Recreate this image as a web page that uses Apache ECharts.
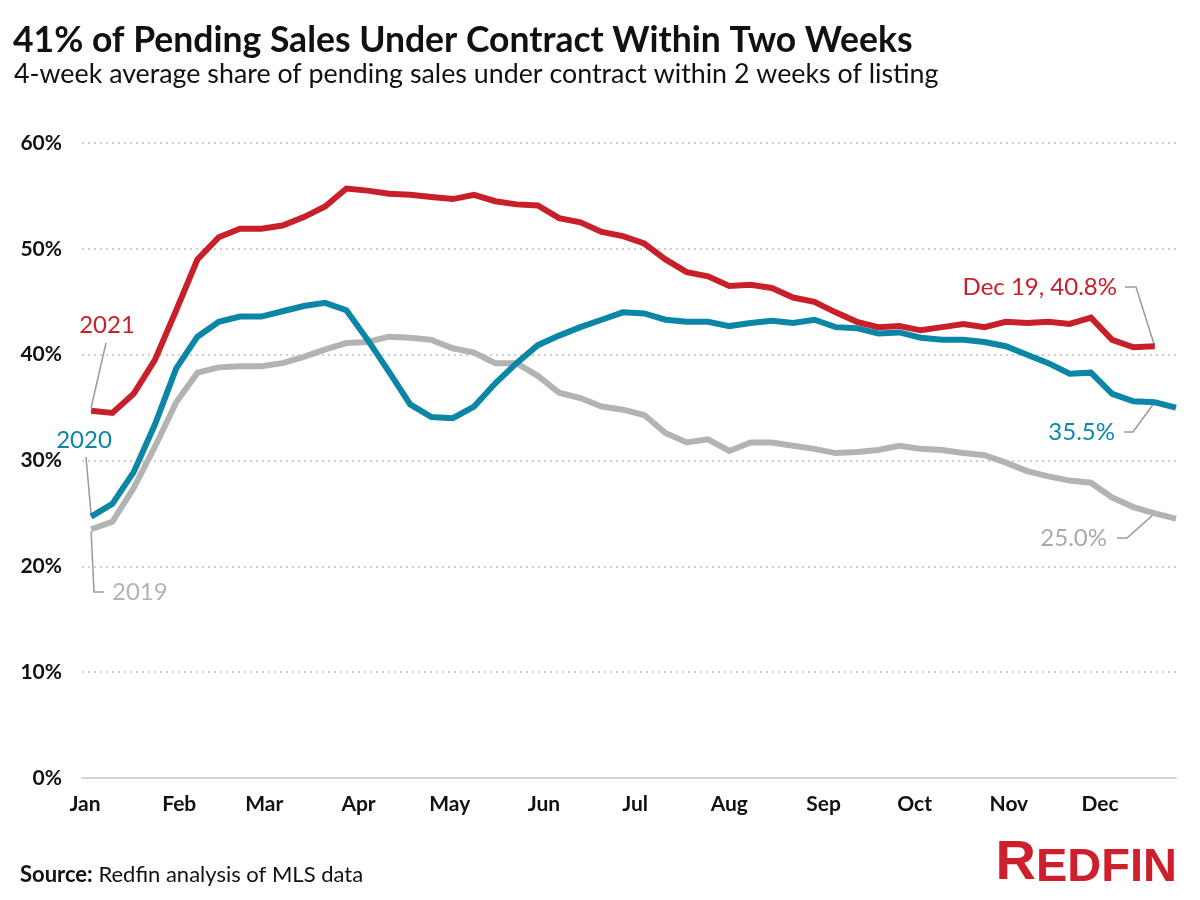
<!DOCTYPE html>
<html><head><meta charset="utf-8">
<script src="https://cdn.jsdelivr.net/npm/echarts@6/dist/echarts.min.js"></script>
<style>html,body{margin:0;padding:0;background:#fff}#c{width:1200px;height:900px}</style>
</head><body><div id="c"></div>
<script>
// Week-ending dates (Sundays), shared by all three years on a Jan-Dec axis
const weeks = ['Jan 3','Jan 10','Jan 17','Jan 24','Jan 31','Feb 7','Feb 14','Feb 21','Feb 28',
  'Mar 7','Mar 14','Mar 21','Mar 28','Apr 4','Apr 11','Apr 18','Apr 25','May 2','May 9','May 16',
  'May 23','May 30','Jun 6','Jun 13','Jun 20','Jun 27','Jul 4','Jul 11','Jul 18','Jul 25','Aug 1',
  'Aug 8','Aug 15','Aug 22','Aug 29','Sep 5','Sep 12','Sep 19','Sep 26','Oct 3','Oct 10','Oct 17',
  'Oct 24','Oct 31','Nov 7','Nov 14','Nov 21','Nov 28','Dec 5','Dec 12','Dec 19','Dec 26'];
const monthTicks = ['Jan 1','Feb 1','Mar 1','Apr 1','May 1','Jun 1','Jul 1','Aug 1','Sep 1','Oct 1','Nov 1','Dec 1'];
const monthLabels = ['Jan','Feb','Mar','Apr','May','Jun','Jul','Aug','Sep','Oct','Nov','Dec'];
const yTicks = [0,10,20,30,40,50,60];

const share2021 = [34.7,34.5,36.3,39.5,44.2,49.0,51.1,51.9,51.9,52.2,53.0,54.0,55.7,55.5,55.2,55.1,
  54.9,54.7,55.1,54.5,54.2,54.1,52.9,52.5,51.6,51.2,50.5,49.0,47.8,47.4,46.5,46.6,46.3,45.4,45.0,
  44.0,43.1,42.6,42.7,42.3,42.6,42.9,42.6,43.1,43.0,43.1,42.9,43.5,41.4,40.7,40.8];
const share2020 = [24.7,25.9,28.9,33.4,38.7,41.7,43.1,43.6,43.6,44.1,44.6,44.9,44.2,41.4,38.4,35.3,
  34.1,34.0,35.1,37.3,39.2,40.9,41.8,42.6,43.3,44.0,43.9,43.3,43.1,43.1,42.7,43.0,43.2,43.0,43.3,
  42.6,42.5,42.0,42.1,41.6,41.4,41.4,41.2,40.8,40.0,39.2,38.2,38.3,36.3,35.6,35.5,35.0];
const share2019 = [23.5,24.2,27.4,31.3,35.5,38.3,38.8,38.9,38.9,39.2,39.8,40.5,41.1,41.2,41.7,41.6,
  41.4,40.6,40.2,39.2,39.2,38.0,36.4,35.9,35.1,34.8,34.3,32.6,31.7,32.0,30.9,31.7,31.7,31.4,31.1,
  30.7,30.8,31.0,31.4,31.1,31.0,30.7,30.5,29.8,29.0,28.5,28.1,27.9,26.5,25.6,25.0,24.5];

const seriesNames = ['2019','2020','2021'];
const seriesColors = {'2021':'#C8202A','2020':'#0C86A7','2019':'#B3B3B3'};
const endLabels = {'2021':'Dec 19, 40.8%','2020':'35.5%','2019':'25.0%'};

const MON = {Jan:0,Feb:1,Mar:2,Apr:3,May:4,Jun:5,Jul:6,Aug:7,Sep:8,Oct:9,Nov:10,Dec:11};
function doy(s){const [m,d]=s.split(' ');return (Date.UTC(2021,MON[m],+d)-Date.UTC(2021,0,1))/86400000;}
const tickDays = monthTicks.map(doy);
const dayToLabel = {}; tickDays.forEach((d,i)=>dayToLabel[d]=monthLabels[i]);
function pts(vals){return vals.map((v,i)=>[doy(weeks[i]),v]);}
const dataByYear = {'2021':share2021,'2020':share2020,'2019':share2019};

const FONT = 'Lato, "Open Sans", sans-serif';
const LOGO = '"Liberation Sans", Arial, sans-serif';
const chart = echarts.init(document.getElementById('c'), null, {renderer:'canvas'});
const option = {
  backgroundColor:'#fff',
  animation:false,
  grid:{left:82,right:24,top:143,bottom:122,containLabel:false},
  xAxis:{type:'value',min:-1,max:359,
    axisLine:{show:true,lineStyle:{color:'#d4d4d4',width:2}},
    axisTick:{show:false},splitLine:{show:false},
    axisLabel:{customValues:tickDays,formatter:v=>dayToLabel[v]||'',color:'#111',
      fontFamily:FONT,fontSize:21,fontWeight:'bold',margin:16}},
  yAxis:{type:'value',min:yTicks[0],max:yTicks[yTicks.length-1],interval:10,
    axisLine:{show:false},axisTick:{show:false},
    axisLabel:{formatter:'{value}%',color:'#111',fontFamily:FONT,fontSize:21,fontWeight:'bold',margin:20},
    splitLine:{show:true,showMinLine:false,lineStyle:{color:'#cfcfcf',type:[2,4],width:2}}},
  series: seriesNames.map(n=>({name:n,type:'line',data:pts(dataByYear[n]),showSymbol:false,
    lineStyle:{color:seriesColors[n],width:6,join:'miter'},z: n==='2021'?4:(n==='2020'?3:2)})),
  graphic:[
    {type:'text',left:13,top:23,style:{text:'41% of Pending Sales Under Contract Within Two Weeks',
      font:'bold 35.5px '+FONT,fill:'#111'}},
    {type:'text',left:14,top:61,style:{text:'4-week average share of pending sales under contract within 2 weeks of listing',
      font:'26.8px '+FONT,fill:'#111'}},
    {type:'text',left:20,top:864,style:{rich:{b:{font:'bold 22px '+FONT,fill:'#111'},r:{font:'22px '+FONT,fill:'#111'}},
      text:'{b|Source:}{r| Redfin analysis of MLS data}'}},
    {type:'text',right:23,top:836,style:{rich:{R:{font:'bold 56px '+LOGO,fill:'#CD202C',verticalAlign:'bottom'},
      E:{font:'bold 47px '+LOGO,fill:'#CD202C',verticalAlign:'bottom'}},
      text:'{R|R}{E|EDFIN}'}}
  ]
};
chart.setOption(option);

function px(n,i){return chart.convertToPixel({gridIndex:0},[doy(weeks[i]),dataByYear[n][i]]);}
const lc = '#9a9a9a';
const g = [];
// start labels
const p21 = px('2021',0), p20 = px('2020',0), p19 = px('2019',0);
g.push({type:'text',x:107,y:325,style:{text:'2021',font:'24px '+FONT,fill:seriesColors['2021'],align:'center',verticalAlign:'middle'}});
g.push({type:'polyline',shape:{points:[[106,343],[p21[0],p21[1]-3]]},style:{stroke:lc,lineWidth:1.5,fill:null}});
g.push({type:'text',x:84,y:440,style:{text:'2020',font:'24px '+FONT,fill:seriesColors['2020'],align:'center',verticalAlign:'middle'}});
g.push({type:'polyline',shape:{points:[[86,457],[p20[0],p20[1]-2]]},style:{stroke:lc,lineWidth:1.5,fill:null}});
g.push({type:'text',x:112,y:592,style:{text:'2019',font:'24px '+FONT,fill:seriesColors['2019'],align:'left',verticalAlign:'middle'}});
g.push({type:'polyline',shape:{points:[[p19[0],p19[1]+2],[94,592],[104,592]]},style:{stroke:lc,lineWidth:1.5,fill:null}});
// end labels
const e21 = px('2021',50), e20 = px('2020',50), e19 = px('2019',50);
g.push({type:'text',x:1117,y:287,style:{text:endLabels['2021'],font:'24px '+FONT,fill:seriesColors['2021'],align:'right',verticalAlign:'middle'}});
g.push({type:'polyline',shape:{points:[[1125,287],[1136,287],[e21[0],e21[1]]]},style:{stroke:lc,lineWidth:1.5,fill:null}});
g.push({type:'text',x:1115,y:432,style:{text:endLabels['2020'],font:'24px '+FONT,fill:seriesColors['2020'],align:'right',verticalAlign:'middle'}});
g.push({type:'polyline',shape:{points:[[1124,432],[1133,432],[e20[0],e20[1]]]},style:{stroke:lc,lineWidth:1.5,fill:null}});
g.push({type:'text',x:1107,y:538,style:{text:endLabels['2019'],font:'24px '+FONT,fill:'#aaaaaa',align:'right',verticalAlign:'middle'}});
g.push({type:'polyline',shape:{points:[[1117,538],[1127,538],[e19[0],e19[1]]]},style:{stroke:lc,lineWidth:1.5,fill:null}});
chart.setOption({graphic: option.graphic.concat(g)});
</script>
</body></html>
